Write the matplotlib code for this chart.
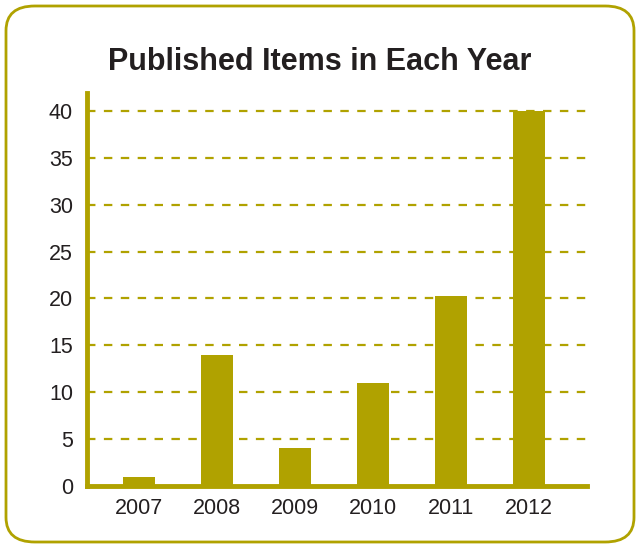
import matplotlib.pyplot as plt
from matplotlib.patches import FancyBboxPatch

years = ["2007", "2008", "2009", "2010", "2011", "2012"]
items = [1, 14, 4, 11, 20.3, 40]
y_ticks = [0, 5, 10, 15, 20, 25, 30, 35, 40]

olive = "#B0A200"
text_col = "#231F20"

plt.rcParams['font.family'] = ['Liberation Sans', 'DejaVu Sans']

fig = plt.figure(figsize=(6.4, 5.48), dpi=100)
ax = fig.add_axes([87 / 640, 1 - 486 / 548, 500 / 640, 393 / 548])

# rounded frame around the whole chart
frame = FancyBboxPatch((6 / 640, 6 / 548), 628 / 640, 536 / 548,
                       boxstyle="round,pad=0,rounding_size=0.045",
                       transform=fig.transFigure, fill=False,
                       edgecolor=olive, linewidth=2, zorder=0)
fig.patches.append(frame)

x = range(len(years))
ax.bar(x, items, width=0.41, color=olive, zorder=2)

ax.set_xlim(-0.667, 5.74)
ax.set_ylim(0, 41.9)
ax.set_yticks(y_ticks)
ax.set_xticks(list(x))
ax.set_xticklabels(years)

for t in y_ticks[1:]:
    ax.axhline(t, color=olive, lw=1.6, ls=(0, (3.8, 3.8)), zorder=3)

for s in ["top", "right"]:
    ax.spines[s].set_visible(False)
for s in ["left", "bottom"]:
    ax.spines[s].set_color(olive)
    ax.spines[s].set_linewidth(3.5)

ax.tick_params(length=0, colors=text_col, pad=10)
ax.tick_params(axis='x', pad=9)
for lab in ax.get_xticklabels() + ax.get_yticklabels():
    lab.set_fontsize(15.5)

fig.text(0.5, 1 - 62 / 548, "Published Items in Each Year", ha="center",
         va="center", fontsize=22, fontweight="bold", color=text_col)

fig.savefig("out.png", dpi=100)
